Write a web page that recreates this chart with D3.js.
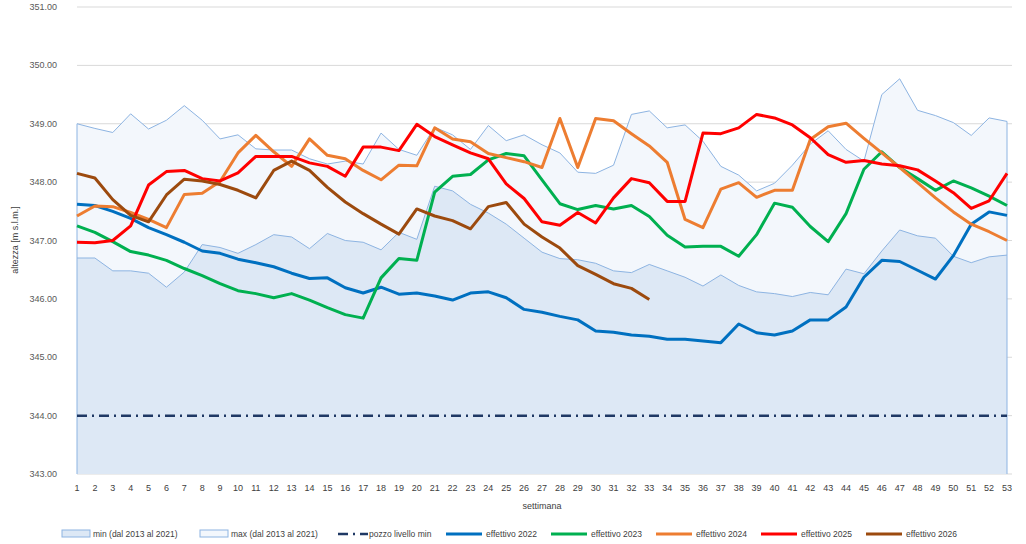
<!DOCTYPE html>
<html><head><meta charset="utf-8">
<script src="https://cdn.jsdelivr.net/npm/d3@7"></script>
<style>body{margin:0;background:#fff;font-family:"Liberation Sans",Arial,sans-serif}</style>
</head><body><div id="chart"></div>
<script>
const weeks = d3.range(1, 54);
const minBand = [346.7,346.7,346.48,346.48,346.44,346.2,346.46,346.93,346.88,346.78,346.93,347.1,347.06,346.86,347.12,347.0,346.97,346.84,347.14,347.02,347.93,347.85,347.62,347.47,347.28,347.04,346.8,346.69,346.67,346.61,346.48,346.45,346.59,346.48,346.37,346.22,346.41,346.23,346.12,346.09,346.04,346.11,346.07,346.51,346.43,346.82,347.18,347.08,347.04,346.73,346.62,346.72,346.75];
const maxBand = [349.0,348.92,348.85,349.17,348.91,349.06,349.31,349.06,348.74,348.81,348.57,348.55,348.55,348.4,348.31,348.36,348.31,348.84,348.56,348.46,348.94,348.81,348.56,348.97,348.71,348.81,348.64,348.5,348.17,348.15,348.29,349.16,349.22,348.93,348.98,348.7,348.27,348.12,347.85,347.98,348.29,348.65,348.88,348.56,348.36,349.5,349.77,349.23,349.14,349.02,348.8,349.1,349.04];
const pozzoMin = 344;
const eff2022 = [347.62,347.6,347.5,347.38,347.22,347.1,346.97,346.82,346.78,346.68,346.62,346.55,346.44,346.35,346.36,346.19,346.1,346.2,346.08,346.1,346.05,345.98,346.1,346.12,346.02,345.82,345.77,345.7,345.64,345.45,345.43,345.38,345.36,345.31,345.31,345.28,345.25,345.57,345.42,345.38,345.45,345.64,345.64,345.86,346.37,346.66,346.64,346.49,346.34,346.74,347.28,347.49,347.43];
const eff2023 = [347.25,347.14,346.98,346.81,346.75,346.66,346.52,346.4,346.26,346.14,346.09,346.02,346.09,345.98,345.85,345.73,345.67,346.36,346.69,346.66,347.83,348.1,348.13,348.38,348.49,348.45,348.04,347.63,347.53,347.6,347.54,347.6,347.41,347.09,346.89,346.9,346.9,346.73,347.1,347.64,347.57,347.24,346.98,347.46,348.22,348.52,348.25,348.06,347.86,348.02,347.9,347.76,347.6];
const eff2024 = [347.42,347.59,347.58,347.48,347.36,347.22,347.79,347.81,348.01,348.5,348.8,348.52,348.27,348.74,348.46,348.4,348.2,348.04,348.29,348.28,348.93,348.74,348.69,348.49,348.42,348.35,348.25,349.09,348.25,349.09,349.05,348.83,348.62,348.34,347.36,347.22,347.88,347.99,347.74,347.86,347.86,348.73,348.95,349.01,348.75,348.5,348.25,347.99,347.73,347.49,347.28,347.15,347.0];
const eff2025 = [346.97,346.96,347.0,347.25,347.95,348.18,348.2,348.06,348.02,348.16,348.44,348.44,348.44,348.33,348.27,348.1,348.6,348.6,348.54,348.99,348.78,348.64,348.5,348.4,347.97,347.72,347.32,347.26,347.48,347.3,347.73,348.06,347.99,347.67,347.67,348.84,348.83,348.93,349.16,349.1,348.98,348.76,348.47,348.34,348.37,348.31,348.28,348.21,348.02,347.82,347.55,347.68,348.15];
const eff2026 = [348.15,348.07,347.7,347.43,347.32,347.78,348.05,348.02,347.96,347.86,347.73,348.2,348.36,348.2,347.91,347.66,347.46,347.28,347.11,347.54,347.42,347.34,347.2,347.58,347.65,347.28,347.06,346.87,346.57,346.42,346.26,346.18,345.99];
const yTicks = d3.range(343, 352);

const W = 1026, H = 544;
const svg = d3.select("#chart").append("svg").attr("width", W).attr("height", H);
const x = d3.scaleLinear().domain([1, 53]).range([77, 1007]);
const y = d3.scaleLinear().domain([343, 351]).range([474, 7]);

// gridlines
svg.append("g").selectAll("line").data(yTicks).join("line")
  .attr("x1", 77).attr("x2", 1012).attr("y1", d => y(d)).attr("y2", d => y(d))
  .attr("stroke", "#d9d9d9").attr("stroke-width", 1);

// bands
const area = arr => d3.area().x((d, i) => x(weeks[i])).y0(y(343)).y1(d => y(d))(arr);
const line = d3.line().x((d, i) => x(weeks[i])).y(d => y(d));
svg.append("path").attr("d", area(maxBand)).attr("fill", "#f3f7fc");
svg.append("path").attr("d", area(minBand)).attr("fill", "#dde8f5");
svg.append("path").attr("d", line(maxBand)).attr("fill", "none").attr("stroke", "#8db4e2").attr("stroke-width", 1);
svg.append("path").attr("d", line(minBand)).attr("fill", "none").attr("stroke", "#8db4e2").attr("stroke-width", 1);
svg.append("line").attr("x1", x(1)).attr("x2", x(1)).attr("y1", y(maxBand[0])).attr("y2", y(343)).attr("stroke", "#8db4e2");
svg.append("line").attr("x1", x(53)).attr("x2", x(53)).attr("y1", y(maxBand[52])).attr("y2", y(343)).attr("stroke", "#8db4e2");

// pozzo
svg.append("line").attr("x1", x(1)).attr("x2", x(53)).attr("y1", y(pozzoMin)).attr("y2", y(pozzoMin))
  .attr("stroke", "#1f3864").attr("stroke-width", 2.5).attr("stroke-dasharray", "10,5,2,5");

const series = [
  [eff2022, "#0070c0", "effettivo 2022"],
  [eff2023, "#00b050", "effettivo 2023"],
  [eff2024, "#ed7d31", "effettivo 2024"],
  [eff2025, "#ff0000", "effettivo 2025"],
  [eff2026, "#9c4a0e", "effettivo 2026"]
];
series.forEach(([d, c]) => svg.append("path").attr("d", line(d)).attr("fill", "none")
  .attr("stroke", c).attr("stroke-width", 3).attr("stroke-linejoin", "round"));

// axes labels
svg.append("g").selectAll("text").data(yTicks).join("text")
  .attr("x", 57).attr("y", d => y(d) + 3).attr("text-anchor", "end")
  .attr("font-size", 9).attr("fill", "#595959").text(d => d.toFixed(2));
svg.append("g").selectAll("text").data(weeks).join("text")
  .attr("x", d => x(d)).attr("y", 491).attr("text-anchor", "middle")
  .attr("font-size", 9).attr("fill", "#404040").text(d => d);
svg.append("text").attr("x", 542).attr("y", 509).attr("text-anchor", "middle")
  .attr("font-size", 9).attr("fill", "#404040").text("settimana");
svg.append("text").attr("transform", "translate(18,240) rotate(-90)").attr("text-anchor", "middle")
  .attr("font-size", 9).attr("fill", "#404040").text("altezza [m s.l.m.]");

// legend
const legend = [
  { x: 62, label: "min (dal 2013 al 2021)", type: "minband" },
  { x: 200, label: "max (dal 2013 al 2021)", type: "maxband" },
  { x: 338, label: "pozzo livello min", type: "pozzo" },
  { x: 446, label: "effettivo 2022", c: "#0070c0" },
  { x: 551, label: "effettivo 2023", c: "#00b050" },
  { x: 656, label: "effettivo 2024", c: "#ed7d31" },
  { x: 761, label: "effettivo 2025", c: "#ff0000" },
  { x: 866, label: "effettivo 2026", c: "#9c4a0e" }
];
const lg = svg.append("g").selectAll("g").data(legend).join("g").attr("transform", d => `translate(${d.x},534)`);
lg.each(function (d) {
  const g = d3.select(this);
  if (d.type === "minband" || d.type === "maxband") {
    g.append("rect").attr("x", 0).attr("y", -4).attr("width", 28).attr("height", 7)
      .attr("fill", d.type === "minband" ? "#dde8f5" : "#f3f7fc").attr("stroke", "#8db4e2");
  } else if (d.type === "pozzo") {
    g.append("line").attr("x1", 0).attr("x2", 30).attr("y1", 0).attr("y2", 0)
      .attr("stroke", "#1f3864").attr("stroke-width", 2.5).attr("stroke-dasharray", "10,5,2,5");
  } else {
    g.append("line").attr("x1", 0).attr("x2", 36).attr("y1", 0).attr("y2", 0).attr("stroke", d.c).attr("stroke-width", 3);
  }
  g.append("text").attr("x", d.type ? 31 : 40).attr("y", 3).attr("font-size", 8.5).attr("fill", "#404040").text(d.label);
});
</script></body></html>
